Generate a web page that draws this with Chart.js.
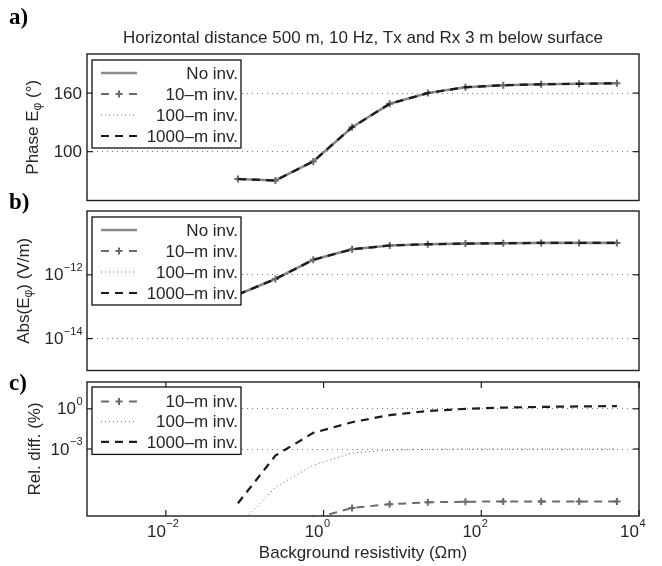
<!DOCTYPE html>
<html>
<head>
<meta charset="utf-8">
<script src="https://cdn.jsdelivr.net/npm/chart.js@4.4.1/dist/chart.umd.min.js"></script>
<style>
  body { margin: 0; background: #fff; }
  #wrap { position: relative; width: 662px; height: 566px; }
  #wrap canvas { position: absolute; left: 0; }
</style>
</head>
<body>
<div id="wrap">
  <canvas id="phaseChart" width="662" height="206" style="top:0"></canvas>
  <canvas id="absChart" width="662" height="190" style="top:186px"></canvas>
  <canvas id="diffChart" width="662" height="200" style="top:366px"></canvas>
</div>
<script>
// resistivity of the background (ohm m), same for every curve
const resistivity = [0.082, 0.245, 0.74, 2.3, 6.9, 21, 63, 190, 575, 1740, 5250];

// a) phase of E_phi (deg); the four curves lie on top of each other
const phaseDeg = [72, 70.5, 90, 125, 149, 160, 166, 168, 169, 169.5, 170];
// b) |E_phi| (V/m)
const absE = [2.4e-13, 7.4e-13, 2.95e-12, 6.3e-12, 8.3e-12, 9.1e-12, 9.5e-12, 9.8e-12, 1.0e-11, 1.0e-11, 1.0e-11];
// c) relative difference (%) against "no inversion"
const diff10 = [3.2e-11, 5e-10, 6.3e-9, 4.0e-8, 7.6e-8, 1.05e-7, 1.17e-7, 1.2e-7, 1.23e-7, 1.23e-7, 1.23e-7];
const diff100 = [1.6e-9, 1.4e-6, 6.3e-5, 5.0e-4, 8.3e-4, 9.5e-4, 1.0e-3, 1.0e-3, 1.0e-3, 1.0e-3, 1.0e-3];
const diff1000 = [8.9e-8, 3.2e-4, 1.6e-2, 0.1, 0.34, 0.68, 1.0, 1.23, 1.38, 1.51, 1.58];

const seriesNames = ['No inv.', '10\u2013m inv.', '100\u2013m inv.', '1000\u2013m inv.'];
const phaseTicks = [100, 160];
const absTicks = [1e-14, 1e-12];
const diffTicks = [1e-3, 1];
const resTicks = [1e-2, 1, 1e2, 1e4];

const FONT = '"Liberation Sans", Arial, Helvetica, sans-serif';
const INK = '#262626';

// line look of each curve, index matches seriesNames
const looks = [
  { color: '#8a8a8a', width: 2.6, dash: [], marker: false },
  { color: '#6a6a6a', width: 2, dash: [8, 6], marker: true },
  { color: '#6a6a6a', width: 1, dash: [1, 3], marker: false },
  { color: '#1c1c1c', width: 2.2, dash: [8, 6], marker: false }
];

function makeSet(idx, values) {
  const lk = looks[idx];
  return {
    label: seriesNames[idx],
    data: resistivity.map((x, i) => ({ x: x, y: values[i] })),
    borderColor: lk.color,
    borderWidth: lk.width,
    borderDash: lk.dash,
    pointStyle: 'cross',
    pointRadius: lk.marker ? 3.5 : 0,
    pointBorderWidth: 2,
    pointBorderColor: lk.color,
    pointHoverRadius: 0,
    tension: 0,
    fill: false,
    clip: 0,
    order: 3 - idx
  };
}

function line(ctx, x1, y1, x2, y2) {
  ctx.beginPath(); ctx.moveTo(x1, y1); ctx.lineTo(x2, y2); ctx.stroke();
}

// "10" with a raised exponent; anchor is where "10" ends (or the whole label for 'right')
function powLabel(ctx, exp, x, y, align) {
  ctx.font = '17px ' + FONT;
  const wb = ctx.measureText('10').width;
  ctx.font = '11px ' + FONT;
  const we = ctx.measureText(exp).width;
  let x0 = align === 'right' ? x - wb - we : x - wb;
  ctx.textAlign = 'left';
  ctx.textBaseline = 'middle';
  ctx.font = '17px ' + FONT;
  ctx.fillText('10', x0, y);
  ctx.font = '11px ' + FONT;
  ctx.fillText(exp, x0 + wb + 0.5, y - 8);
}

function expText(v) {
  const e = Math.round(Math.log10(v));
  return e < 0 ? '\u2212' + (-e) : String(e);
}

// rotated axis title made of pieces, some of them subscript
function yTitle(ctx, parts, x, y) {
  ctx.save();
  ctx.translate(x, y);
  ctx.rotate(-Math.PI / 2);
  ctx.textBaseline = 'middle';
  ctx.textAlign = 'left';
  let total = 0;
  parts.forEach(p => {
    ctx.font = (p.sub ? '12px ' : '17px ') + FONT;
    p.w = ctx.measureText(p.t).width;
    total += p.w;
  });
  let px = -total / 2;
  parts.forEach(p => {
    ctx.font = (p.sub ? '12px ' : '17px ') + FONT;
    ctx.fillText(p.t, px, p.sub ? 5 : 0);
    px += p.w;
  });
  ctx.restore();
}

const decor = {
  id: 'decor',
  afterDatasetsDraw(chart, args, o) {
    const ctx = chart.ctx, a = chart.chartArea;
    const ys = chart.scales.y, xs = chart.scales.x;
    ctx.save();
    ctx.setLineDash([]);
    ctx.strokeStyle = '#1e1e1e';
    ctx.fillStyle = INK;
    ctx.lineWidth = 1.4;
    ctx.strokeRect(a.left, a.top, a.right - a.left, a.bottom - a.top);

    ctx.lineWidth = 1.2;
    ys.ticks.forEach(t => {
      const py = ys.getPixelForValue(t.value);
      line(ctx, a.left, py, a.left + 6, py);
      line(ctx, a.right - 6, py, a.right, py);
      if (o.logY) {
        powLabel(ctx, expText(t.value), a.left - 5, py + 1, 'right');
      } else {
        ctx.font = '17px ' + FONT;
        ctx.textAlign = 'right';
        ctx.textBaseline = 'middle';
        ctx.fillText(String(t.value), a.left - 5, py + 1);
      }
    });

    if (o.xLabels) {
      xs.ticks.forEach(t => {
        const px = xs.getPixelForValue(t.value);
        line(ctx, px, a.top, px, a.top + 6);
        line(ctx, px, a.bottom - 6, px, a.bottom);
        powLabel(ctx, expText(t.value), px, a.bottom + 16, 'end');
      });
    }

    // legend box in the upper left corner
    const lg = o.legend;
    const bx = a.left + 5, by = a.top + lg.top;
    const bw = 149, bh = lg.first + lg.row * (lg.items.length - 1) + lg.last;
    ctx.fillStyle = '#fff';
    ctx.fillRect(bx, by, bw, bh);
    ctx.strokeStyle = '#111';
    ctx.lineWidth = 1.3;
    ctx.strokeRect(bx, by, bw, bh);
    lg.items.forEach((idx, k) => {
      const lk = looks[idx];
      const ry = by + lg.first + k * lg.row;
      ctx.strokeStyle = lk.color;
      ctx.lineWidth = lk.width;
      ctx.setLineDash(lk.dash);
      line(ctx, bx + 9, ry, bx + 45, ry);
      ctx.setLineDash([]);
      if (lk.marker) {
        ctx.lineWidth = 2;
        const cx = bx + 27;
        ctx.fillStyle = '#fff';
        ctx.fillRect(cx - 5, ry - 2, 10, 4);
        line(ctx, cx - 3.5, ry, cx + 3.5, ry);
        line(ctx, cx, ry - 3.5, cx, ry + 3.5);
      }
      ctx.fillStyle = INK;
      ctx.font = '17px ' + FONT;
      ctx.textAlign = 'right';
      ctx.textBaseline = 'middle';
      ctx.fillText(seriesNames[idx], bx + bw - 3, ry + 1);
    });

    // panel letter, axis title, figure title
    ctx.fillStyle = '#000';
    ctx.font = 'bold 23px "Liberation Serif", "Times New Roman", serif';
    ctx.textAlign = 'left';
    ctx.textBaseline = 'middle';
    ctx.fillText(o.letter, 9, o.letterY);
    ctx.fillStyle = INK;
    yTitle(ctx, o.yTitle, o.yTitleX, (a.top + a.bottom) / 2);
    if (o.title) {
      ctx.font = '17px ' + FONT;
      ctx.textAlign = 'center';
      ctx.textBaseline = 'middle';
      ctx.fillText(o.title, (a.left + a.right) / 2, 38);
    }
    ctx.restore();
  }
};

function yAxis(type, min, max, ticks) {
  return {
    type: type, min: min, max: max,
    afterBuildTicks: s => { s.ticks = ticks.map(v => ({ value: v })); },
    afterFit: s => { s.width = 87; },
    ticks: { display: false },
    grid: { drawTicks: false, color: '#7a7a7a', lineWidth: 1 },
    border: { display: false, dash: [1, 4] }
  };
}

function xAxis(show) {
  return {
    type: 'logarithmic', min: 1e-3, max: 1e4,
    display: show,
    afterBuildTicks: s => { s.ticks = resTicks.map(v => ({ value: v })); },
    afterFit: s => { s.height = show ? 50 : 0; },
    ticks: { display: false },
    grid: { display: false },
    border: { display: false },
    title: {
      display: show, text: 'Background resistivity (\u03A9m)',
      color: INK, font: { family: FONT, size: 17 }, padding: { top: 0, bottom: 2 }
    }
  };
}

function baseOptions(pad, y, x, decorOpts) {
  return {
    responsive: false,
    animation: false,
    events: [],
    layout: { padding: pad },
    scales: { x: x, y: y },
    plugins: { legend: { display: false }, tooltip: { enabled: false }, decor: decorOpts }
  };
}

new Chart(document.getElementById('phaseChart'), {
  type: 'line',
  data: { datasets: [0, 1, 2, 3].map(i => makeSet(i, phaseDeg)) },
  options: baseOptions({ left: 0, right: 23, top: 54, bottom: 5 },
    yAxis('linear', 50, 200, phaseTicks), xAxis(false), {
      letter: 'a)', letterY: 18,
      title: 'Horizontal distance 500 m, 10 Hz, Tx and Rx 3 m below surface',
      yTitle: [{ t: 'Phase E' }, { t: '\u03C6', sub: true }, { t: ' (\u00B0)' }], yTitleX: 33,
      legend: { items: [0, 1, 2, 3], top: 6, first: 13, row: 21, last: 12 }
    }),
  plugins: [decor]
});

new Chart(document.getElementById('absChart'), {
  type: 'line',
  data: { datasets: [0, 1, 2, 3].map(i => makeSet(i, absE)) },
  options: baseOptions({ left: 0, right: 23, top: 25, bottom: 4 },
    yAxis('logarithmic', 1e-15, 1e-10, absTicks), xAxis(false), {
      letter: 'b)', letterY: 17, logY: true,
      yTitle: [{ t: 'Abs(E' }, { t: '\u03C6', sub: true }, { t: ') (V/m)' }], yTitleX: 24,
      legend: { items: [0, 1, 2, 3], top: 6, first: 13, row: 21, last: 12 }
    }),
  plugins: [decor]
});

new Chart(document.getElementById('diffChart'), {
  type: 'line',
  data: { datasets: [makeSet(1, diff10), makeSet(2, diff100), makeSet(3, diff1000)] },
  options: baseOptions({ left: 0, right: 23, top: 16, bottom: 0 },
    yAxis('logarithmic', 1e-8, 1e2, diffTicks), xAxis(true), {
      letter: 'c)', letterY: 18, logY: true, xLabels: true,
      yTitle: [{ t: 'Rel. diff. (%)' }], yTitleX: 35,
      legend: { items: [1, 2, 3], top: 5, first: 14.5, row: 20.2, last: 12.5 }
    }),
  plugins: [decor]
});
</script>
</body>
</html>
